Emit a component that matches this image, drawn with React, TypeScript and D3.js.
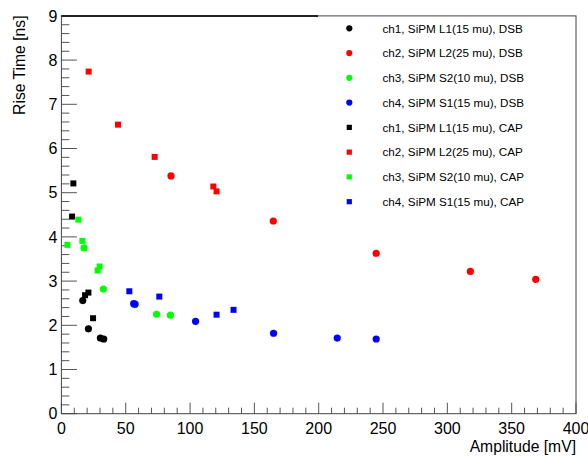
import React from "react";
import * as d3 from "d3";

const W = 588;
const H = 456;

// DSB series (circles)
const dsbCh1X = [16.6, 21.0, 30.3, 32.9];
const dsbCh1Y = [2.56, 1.92, 1.71, 1.69];
const dsbCh2X = [85.2, 164.7, 244.7, 317.9, 368.7];
const dsbCh2Y = [5.38, 4.36, 3.63, 3.22, 3.04];
const dsbCh3X = [17.6, 32.6, 56.9, 74.0, 84.7];
const dsbCh3Y = [3.75, 2.82, 2.465, 2.25, 2.23];
const dsbCh4X = [56.2, 57.3, 104.3, 164.9, 214.4, 244.7];
const dsbCh4Y = [2.49, 2.48, 2.09, 1.82, 1.71, 1.69];

// CAP series (squares)
const capCh1X = [9.3, 8.3, 21.0, 18.4, 24.6];
const capCh1Y = [5.21, 4.46, 2.74, 2.68, 2.16];
const capCh2X = [21.2, 44.0, 72.5, 118.1, 120.6];
const capCh2Y = [7.74, 6.54, 5.81, 5.14, 5.03];
const capCh3X = [4.7, 13.2, 16.3, 28.2, 29.7];
const capCh3Y = [3.82, 4.39, 3.91, 3.24, 3.33];
const capCh4X = [52.8, 76.1, 120.6, 133.8];
const capCh4Y = [2.77, 2.65, 2.24, 2.35];

const legendLabels = [
  "ch1, SiPM L1(15 mu), DSB",
  "ch2, SiPM L2(25 mu), DSB",
  "ch3, SiPM S2(10 mu), DSB",
  "ch4, SiPM S1(15 mu), DSB",
  "ch1, SiPM L1(15 mu), CAP",
  "ch2, SiPM L2(25 mu), CAP",
  "ch3, SiPM S2(10 mu), CAP",
  "ch4, SiPM S1(15 mu), CAP",
];
const xTicks = [0, 50, 100, 150, 200, 250, 300, 350, 400];
const yTicks = [0, 1, 2, 3, 4, 5, 6, 7, 8, 9];

const colors = ["#000000", "#ff0000", "#00ff00", "#0000ff"];

const series = [
  { xs: dsbCh1X, ys: dsbCh1Y, color: colors[0], shape: "circle" },
  { xs: dsbCh2X, ys: dsbCh2Y, color: colors[1], shape: "circle" },
  { xs: dsbCh3X, ys: dsbCh3Y, color: colors[2], shape: "circle" },
  { xs: dsbCh4X, ys: dsbCh4Y, color: colors[3], shape: "circle" },
  { xs: capCh1X, ys: capCh1Y, color: colors[0], shape: "square" },
  { xs: capCh2X, ys: capCh2Y, color: colors[1], shape: "square" },
  { xs: capCh3X, ys: capCh3Y, color: colors[2], shape: "square" },
  { xs: capCh4X, ys: capCh4Y, color: colors[3], shape: "square" },
];

const FONT = "'Liberation Sans', Arial, Helvetica, sans-serif";

function Marker({ cx, cy, color, shape, r = 3.6, s = 6 }: any) {
  if (shape === "circle") return <circle cx={cx} cy={cy} r={r} fill={color} />;
  return <rect x={cx - s / 2} y={cy - s / 2} width={s} height={s} fill={color} />;
}

export default function App() {
  const x = d3.scaleLinear().domain([0, 400]).range([61.4, 576]);
  const y = d3.scaleLinear().domain([0, 9]).range([413.7, 15.9]);
  const x0 = x(0), x1 = x(400), y0 = y(0), y1 = y(9);

  const xMinor = d3.range(0, 401, 10);
  const yMinor = d3.range(0, 9.001, 0.2);

  return (
    <svg
      width={W}
      height={H}
      style={{ position: "absolute", left: 0, top: 0, background: "#fff" }}
      fontFamily={FONT}
    >
      <rect x={0} y={0} width={W} height={H} fill="#fff" />
      {/* ticks */}
      {xMinor.map((v) => {
        const major = Math.abs(v % 50) < 1e-6;
        return (
          <line key={"xm" + v} x1={x(v)} x2={x(v)} y1={y0} y2={y0 - (major ? 11 : 6)} stroke="#555" strokeWidth={1} />
        );
      })}
      {yMinor.map((v) => {
        const major = Math.abs(v - Math.round(v)) < 1e-6;
        return (
          <line key={"ym" + v} x1={x0} x2={x0 + (major ? 15.5 : 8)} y1={y(v)} y2={y(v)} stroke="#555" strokeWidth={1} />
        );
      })}
      {/* frame */}
      <rect x={x0} y={y1} width={x1 - x0} height={y0 - y1} fill="none" stroke="#444" strokeWidth={1} />
      <line x1={x0} x2={318} y1={y1} y2={y1} stroke="#222" strokeWidth={2} />
      {/* tick labels */}
      {xTicks.map((v) => (
        <text key={"xl" + v} x={x(v)} y={434} fontSize={16} textAnchor="middle" fill="#000">
          {v}
        </text>
      ))}
      {yTicks.map((v) => (
        <text key={"yl" + v} x={57.5} y={y(v)} dy="0.36em" fontSize={16} textAnchor="end" fill="#000">
          {v}
        </text>
      ))}
      {/* axis titles */}
      <text x={576} y={452} fontSize={15.7} textAnchor="end" fill="#000">
        Amplitude [mV]
      </text>
      <text
        transform={`translate(25, 15.5) rotate(-90)`}
        fontSize={15.7}
        textAnchor="end"
        fill="#000"
      >
        Rise Time [ns]
      </text>
      {/* data */}
      {series.map((sr, i) => (
        <g key={"s" + i}>
          {sr.xs.map((xv, j) => (
            <Marker key={j} cx={x(xv)} cy={y(sr.ys[j])} color={sr.color} shape={sr.shape} />
          ))}
        </g>
      ))}
      {/* legend */}
      {legendLabels.map((lab, i) => {
        const cy = 28.3 + i * 24.77;
        return (
          <g key={"lg" + i}>
            <Marker cx={349.3} cy={cy} color={series[i].color} shape={series[i].shape} r={3.1} s={5.2} />
            <text x={382.5} y={cy} dy="0.36em" fontSize={11.7} fill="#000">
              {lab}
            </text>
          </g>
        );
      })}
    </svg>
  );
}
